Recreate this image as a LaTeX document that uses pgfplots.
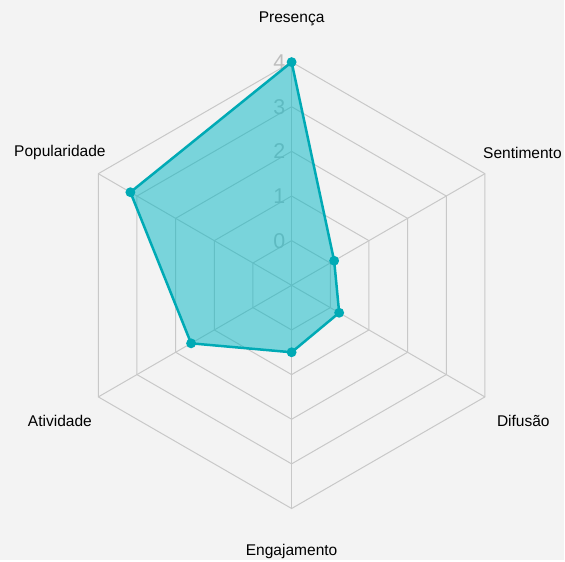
\documentclass[border=0pt]{standalone}
\usepackage{pgfplots}
\usepackage{pgfplotstable}
\pgfplotsset{compat=1.18}
\usepackage{fontspec}
\setmainfont{Liberation Sans}
\definecolor{bgc}{RGB}{243,243,243}
\definecolor{gridc}{RGB}{200,200,200}
\definecolor{tickc}{RGB}{190,190,190}
\definecolor{linec}{RGB}{0,170,181}
\definecolor{fillc}{RGB}{0,183,196}
% angle (deg), value
\pgfplotstableread{
angle value
90   4
30   0.1
-30  0.23
-90  0.5
210  1.6
150  3.17
}\radardata
\begin{document}
\begin{tikzpicture}
\begin{axis}[
  scale only axis, width=565bp, height=561bp,
  xmin=-6.532, xmax=6.107, ymin=-6.159, ymax=6.391,
  hide axis, clip=false,
]
\fill[bgc] (rel axis cs:0,0) rectangle (rel axis cs:1,1);
% grid rings (value -1 at centre, rings at 0..4)
\pgfplotsinvokeforeach{1,...,5}{
  \addplot[gridc, line width=1bp, mark=none, data cs=polar]
    coordinates {(90,#1) (30,#1) (-30,#1) (-90,#1) (-150,#1) (150,#1)} -- cycle;
}
% spokes
\pgfplotsinvokeforeach{90,30,-30,-90,-150,150}{
  \addplot[gridc, line width=1bp, mark=none, data cs=polar]
    coordinates {(#1,0) (#1,5)};
}
% tick labels
\pgfplotsinvokeforeach{0,...,4}{
  \node[anchor=east, inner sep=0pt, text=tickc, font=\fontsize{21.5}{24}\selectfont]
    at (axis cs:-0.14,#1+1) {#1};
}
% data
\addplot[linec, line width=2.5bp, fill=fillc, fill opacity=0.5,
  mark=*, mark size=3.6bp, mark options={fill=linec, draw=linec, fill opacity=1},
  data cs=polar]
  table[x=angle, y expr=\thisrow{value}+1] {\radardata} -- cycle;
% axis labels
\begin{scope}[font=\fontsize{15.6}{18}\selectfont]
\node at (axis cs:0,5.96) {Presença};
\node at (axis cs:5.17,2.97) {Sentimento};
\node at (axis cs:5.19,-3.03) {Difusão};
\node at (axis cs:0,-5.96) {Engajamento};
\node at (axis cs:-5.19,-3.03) {Atividade};
\node at (axis cs:-5.19,2.97) {Popularidade};
\end{scope}
\end{axis}
\end{tikzpicture}
\end{document}
